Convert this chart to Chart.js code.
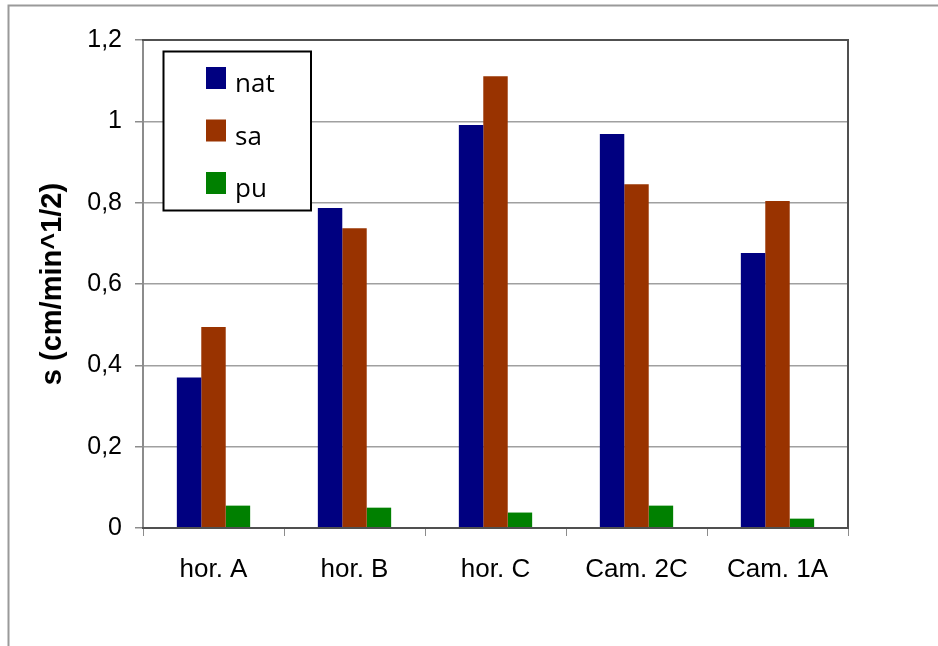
<!DOCTYPE html>
<html>
<head>
<meta charset="utf-8">
<script src="https://cdn.jsdelivr.net/npm/chart.js@4.4.1/dist/chart.umd.min.js"></script>
<style>
html,body{margin:0;padding:0;background:#fff;}
canvas{display:block;}
</style>
</head>
<body>
<canvas id="c" width="938" height="646"></canvas>
<script>
const categories = ["hor. A", "hor. B", "hor. C", "Cam. 2C", "Cam. 1A"];
const natValues = [0.37, 0.787, 0.991, 0.969, 0.676];
const saValues = [0.494, 0.737, 1.111, 0.845, 0.804];
const puValues = [0.055, 0.05, 0.038, 0.055, 0.023];
const seriesNames = ["nat", "sa", "pu"];
const seriesColors = ["#000080", "#993300", "#008000"];
const yTitle = "s (cm/min^1/2)";

const framePlugin = {
  id: 'frame',
  beforeDraw(chart) {
    const ctx = chart.ctx;
    ctx.save();
    ctx.fillStyle = '#fff';
    ctx.fillRect(0, 0, chart.width, chart.height);
    ctx.strokeStyle = '#9a9a9a';
    ctx.lineWidth = 2;
    ctx.beginPath();
    ctx.moveTo(8.5, chart.height);
    ctx.lineTo(8.5, 5.5);
    ctx.lineTo(chart.width, 5.5);
    ctx.stroke();
    ctx.restore();
  },
  afterDatasetsDraw(chart) {
    const {left, right, top, bottom} = chart.chartArea;
    const ctx = chart.ctx;
    ctx.save();
    ctx.lineWidth = 2;
    ctx.strokeStyle = '#8c8c8c';
    ctx.beginPath();
    ctx.moveTo(left, top);
    ctx.lineTo(left, bottom + 1);
    ctx.stroke();
    ctx.strokeStyle = '#505050';
    ctx.beginPath();
    ctx.moveTo(left - 1, top);
    ctx.lineTo(right, top);
    ctx.lineTo(right, bottom);
    ctx.lineTo(left - 1, bottom);
    ctx.stroke();
    ctx.restore();
  },
  afterDraw(chart) {
    const ctx = chart.ctx;
    ctx.save();
    ctx.fillStyle = '#fff';
    ctx.fillRect(163.5, 51.5, 147.5, 159);
    ctx.lineWidth = 2;
    ctx.strokeStyle = '#000';
    ctx.strokeRect(163.5, 51.5, 147.5, 159);
    ctx.font = '26px "Open Sans"';
    ctx.textBaseline = 'alphabetic';
    ctx.textAlign = 'left';
    chart.data.datasets.forEach((ds, i) => {
      const t = 67 + i * 52.5;
      ctx.fillStyle = ds.backgroundColor;
      ctx.fillRect(206, t, 20, 22);
      ctx.fillStyle = '#000';
      ctx.fillText(ds.label, 235, t + 25);
    });
    ctx.restore();
  }
};

new Chart(document.getElementById('c'), {
  type: 'bar',
  data: {
    labels: categories,
    datasets: [
      {label: seriesNames[0], data: natValues, backgroundColor: seriesColors[0]},
      {label: seriesNames[1], data: saValues, backgroundColor: seriesColors[1]},
      {label: seriesNames[2], data: puValues, backgroundColor: seriesColors[2]}
    ]
  },
  options: {
    responsive: false,
    animation: false,
    devicePixelRatio: 1,
    layout: {padding: {left: 0, top: 40, right: 90, bottom: 0}},
    datasets: {bar: {categoryPercentage: 0.52, barPercentage: 1.0}},
    plugins: {legend: {display: false}, tooltip: {enabled: false}},
    scales: {
      x: {
        afterFit(s) { s.height = 118; },
        grid: {display: true, offset: true, drawOnChartArea: false, drawTicks: true, tickLength: 8, color: '#8c8c8c', lineWidth: 1},
        border: {display: false},
        ticks: {color: '#000', font: {family: '"Liberation Sans", Arial, sans-serif', size: 26}, padding: 18, maxRotation: 0}
      },
      y: {
        min: 0, max: 1.2,
        afterFit(s) { s.width = 143; },
        grid: {color: '#a0a0a0', lineWidth: 1.5, drawTicks: true, tickLength: 8, tickColor: '#8c8c8c'},
        border: {display: false},
        ticks: {
          stepSize: 0.2, color: '#000', padding: 13,
          font: {family: '"Liberation Sans", Arial, sans-serif', size: 25},
          callback: v => String(Number(v.toFixed(1))).replace('.', ',')
        },
        title: {
          display: true, text: yTitle, color: '#000',
          font: {family: '"Liberation Sans", Arial, sans-serif', size: 29, weight: 'bold'},
          padding: {top: 36, bottom: 0}
        }
      }
    }
  },
  plugins: [framePlugin]
});
</script>
</body>
</html>
